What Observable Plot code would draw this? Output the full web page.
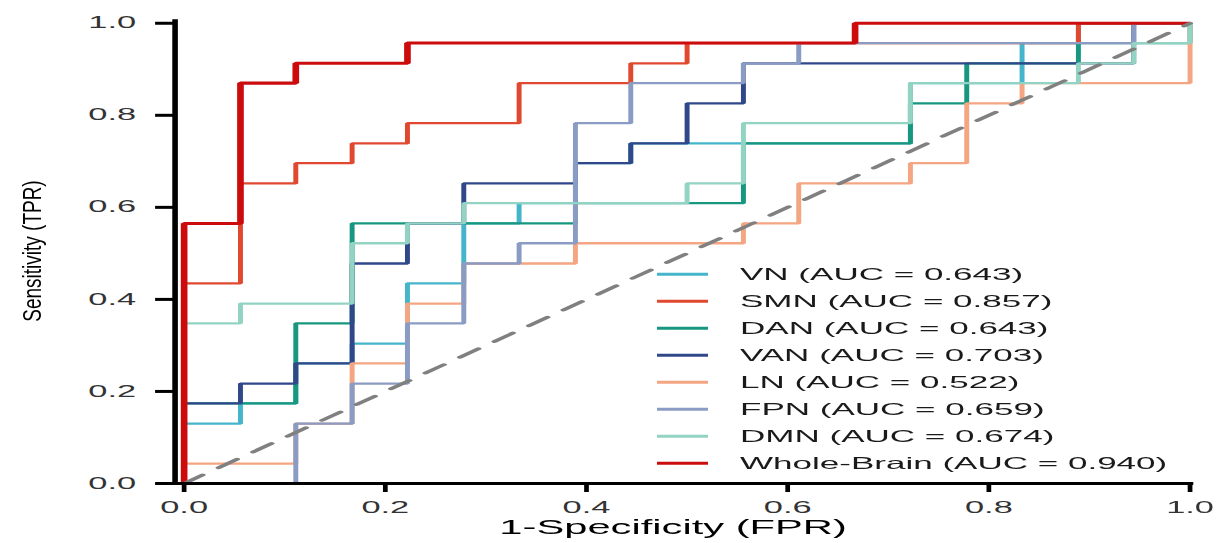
<!DOCTYPE html>
<html><head><meta charset="utf-8">
<script src="https://cdn.jsdelivr.net/npm/d3@7"></script>
<script src="https://cdn.jsdelivr.net/npm/@observablehq/plot@0.6"></script>
<style>
html,body{margin:0;padding:0;background:#fff;}
#wrap{position:relative;width:1220px;height:543px;overflow:hidden;background:#fff;}
#stretch{position:absolute;left:0;top:0;transform-origin:0 0;}
#stretch > svg{position:absolute;left:0;top:0;}
#ylab{position:absolute;left:0;top:0;}
[aria-label$="tick label"]{fill:#333;}
</style></head><body>
<div id="wrap"><div id="stretch"></div><svg id="ylab" width="120" height="543"></svg></div>
<script>
// ---- data ----
const seriesNames = ["VN","SMN","DAN","VAN","LN","FPN","DMN","Whole-Brain"];
const aucValues   = ["0.643","0.857","0.643","0.703","0.522","0.659","0.674","0.940"];
const seriesColors = ["#45B5CC","#E0492F","#17977F","#30488A","#F4A582","#8B9CC4","#93D3C3","#CC0C0C"];

// ROC corner points (FPR where each rise happens, TPR after the rise)
const vnFPR  = [0,0,.056,.111,.167,.222,.278,.333,.389,.444,.722,.833,.889,1];
const vnTPR  = [0,.13,.174,.261,.304,.435,.565,.609,.696,.739,.87,.957,1,1];
const smnFPR = [0,0,.056,.111,.167,.222,.333,.444,.5,.889,1];
const smnTPR = [0,.435,.652,.696,.739,.783,.87,.913,.957,1,1];
const danFPR = [0,0,.111,.167,.389,.556,.722,.778,.889,1];
const danTPR = [0,.174,.348,.565,.609,.739,.826,.913,.957,1];
const vanFPR = [0,0,.056,.111,.167,.222,.278,.389,.444,.5,.556,.944,1];
const vanTPR = [0,.174,.217,.261,.478,.565,.652,.696,.739,.826,.913,1,1];
const lnFPR  = [0,0,.111,.167,.222,.278,.389,.556,.611,.722,.778,.833,1];
const lnTPR  = [0,.043,.13,.261,.391,.478,.522,.565,.652,.696,.826,.87,1];
const fpnFPR = [0,.111,.167,.222,.278,.333,.389,.444,.556,.611,.944,1];
const fpnTPR = [0,.13,.217,.348,.478,.522,.783,.87,.913,.957,1,1];
const dmnFPR = [0,0,.056,.167,.222,.278,.5,.556,.722,.889,.944,1];
const dmnTPR = [0,.348,.391,.522,.565,.609,.652,.783,.87,.913,.957,1];
const wbFPR  = [0,0,.056,.111,.222,.667,1];
const wbTPR  = [0,.565,.87,.913,.957,1,1];

const xTicks = [0,0.2,0.4,0.6,0.8,1.0];
const yTicks = [0,0.2,0.4,0.6,0.8,1.0];
const chanceLine = [0,1];
const xTitle = "1-Specificity (FPR)";
const yTitle = "Sensitivity (TPR)";

// ---- layout (the reference is horizontally stretched) ----
const S = 2.15;
const W = 1220 / S;
const fprs = [vnFPR,smnFPR,danFPR,vanFPR,lnFPR,fpnFPR,dmnFPR,wbFPR];
const tprs = [vnTPR,smnTPR,danTPR,vanTPR,lnTPR,fpnTPR,dmnTPR,wbTPR];
const tables = seriesNames.map((name,k) => fprs[k].map((x,i) => ({series:name, fpr:x, tpr:tprs[k][i]})));
const fmt = d3.format(".1f");

const plot = Plot.plot({
  width: W, height: 543,
  marginLeft: 174 / S, marginRight: W - 1189 / S, marginTop: 20, marginBottom: 60,
  x: {domain: [-0.009, 1]},
  y: {domain: [0, 1.006]},
  color: {domain: seriesNames, range: seriesColors},
  style: {fontFamily: "'Liberation Sans', Arial, Helvetica, sans-serif", background: "#fff", overflow: "visible"},
  marks: [
    ...tables.map((t,k) => Plot.line(t, {x: "fpr", y: "tpr", stroke: "series", curve: "step-after",
        strokeWidth: k === 7 ? 3.1 : 2.3, strokeLinejoin: "miter", strokeLinecap: "butt"})),
    Plot.line(chanceLine, {x: d => d, y: d => d, stroke: "#808080", strokeWidth: 2.8, strokeDasharray: "12,10.5"}),
    Plot.frame({anchor: "left", stroke: "#000", strokeWidth: 2.6}),
    Plot.frame({anchor: "bottom", stroke: "#000", strokeWidth: 3}),
    Plot.axisX(xTicks, {tickSize: 9, tickPadding: 9, strokeWidth: 2.2, fontSize: 16, tickFormat: fmt, label: null, color: "#000"}),
    Plot.axisY(yTicks, {tickSize: 8.8, tickPadding: 9.3, strokeWidth: 3, fontSize: 16, tickFormat: fmt, label: null, color: "#000"}),
    Plot.text([xTitle], {frameAnchor: "bottom", lineAnchor: "middle", dy: 44, dx: -4.4, fontSize: 19.4, fill: "#000"})
  ]
});

const stretch = document.getElementById("stretch");
stretch.style.width = W + "px";
stretch.style.height = "543px";
stretch.style.transform = `scaleX(${S})`;
stretch.appendChild(plot);

// legend (inside the panel, lower right)
const leg = d3.select(stretch).append("svg")
  .attr("width", W).attr("height", 543)
  .style("font-family", "'Liberation Sans', Arial, Helvetica, sans-serif");
const rowY0 = 274.3, rowStep = 27.0;
seriesNames.forEach((name,k) => {
  const cy = rowY0 + k * rowStep;
  leg.append("line").attr("x1", 657 / S).attr("x2", 708 / S).attr("y1", cy).attr("y2", cy)
    .attr("stroke", seriesColors[k]).attr("stroke-width", 3);
  leg.append("text").attr("x", 740 / S).attr("y", cy + 5.9)
    .attr("font-size", 16.3).attr("fill", "#1a1a1a")
    .text(`${name} (AUC = ${aucValues[k]})`);
});

// y-axis title (condensed look, not stretched)
d3.select("#ylab").append("text")
  .attr("transform", "translate(41,251) scale(1.35,1) rotate(-90)")
  .attr("text-anchor", "middle")
  .attr("font-family", "'Liberation Sans', Arial, Helvetica, sans-serif")
  .attr("font-size", 19).attr("fill", "#000")
  .text(yTitle);
</script>
</body></html>
